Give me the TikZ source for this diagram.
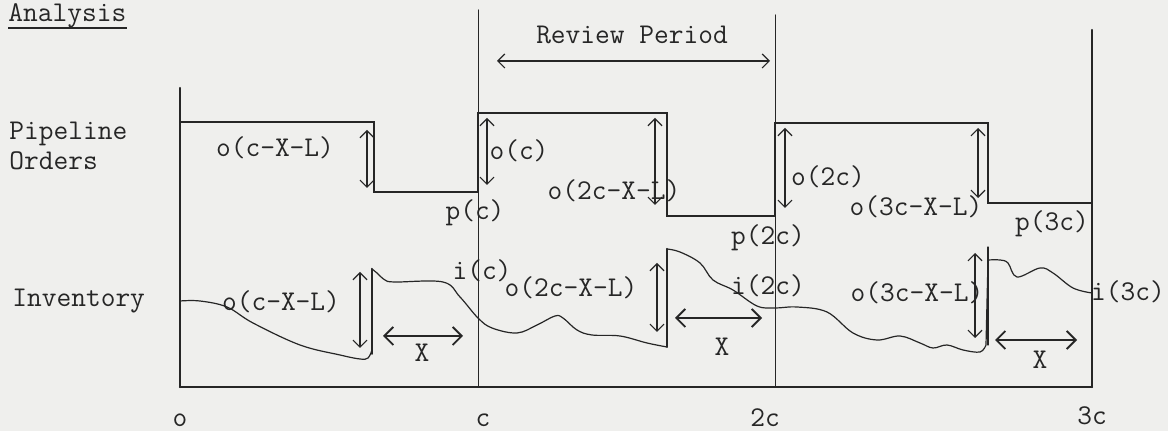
\documentclass[tikz,border=0pt]{standalone}
\usepackage{pgfplots}
\pgfplotsset{compat=1.15}
\usetikzlibrary{arrows,arrows.meta,calc}
\usepackage{tkz-euclide}
\definecolor{PaperClr}{RGB}{239,239,237}
\definecolor{InkClr}{RGB}{38,38,38}

\begin{document}
\begin{tikzpicture}[x=0.5pt,y=-0.5pt,font=\ttfamily\fontsize{14.3}{16}\selectfont,
  tip/.style={{Straight Barb[length=3.5pt,width=7pt]}-{Straight Barb[length=3.5pt,width=7pt]},line width=0.6pt,color=InkClr},
  wtip/.style={{Straight Barb[length=4.5pt,width=9pt]}-{Straight Barb[length=4.5pt,width=9pt]},line width=0.9pt,color=InkClr},
  lbl/.style={inner sep=0pt,text=InkClr}]
\tkzSetUpLine[line width=1pt,color=InkClr]

\useasboundingbox (0,0) rectangle (1168,431);
\fill[PaperClr] (0,0) rectangle (1168,431);

\tkzDefPoints{180/387/O,180/88/Y,1092/30/T3,1092/387/B3,478/10/Tc,478/387/Bc,775/15/T2,775/387/B2}
\tkzDefPoints{180/122/P1,374/122/P2,374/192/P3,478/192/P4,478/113/P5,667/113/P6,667/216/P7,775/216/P8,775/123/P9,988/123/P10,988/203/P11,1092/203/P12}
% order arrows
\tkzDefPoints{367/130/Oa,367/188/Ob,487/118/Oc,487/185/Od,655/118/Oe,655/205/Of,785/128/Og,785/208/Oh,978/128/Oi,978/198/Oj}
% inventory arrows and jumps
\tkzDefPoints{360/272/Ia,360/348/Ib,657/263/Ic,657/332/Id,975/253/Ie,975/338/If}
\tkzDefPoints{372/354/Ja,372/269/Jb,667/347/Jc,667/249/Jd,988/345/Je,988/247/Jf}
% X arrows
\tkzDefPoints{383/336/Xa,463/336/Xb,675/318/Xc,762/318/Xd,995/340/Xe,1077/340/Xf,497/61/Ra,770/61/Rb}

\tkzDrawSegments[line width=0.5pt](Tc,Bc T2,B2)
\tkzDrawSegments[line width=1.1pt](Y,O O,B3 T3,B3)

\draw[line width=1.1pt,color=InkClr] (P1)--(P2)--(P3)--(P4)--(P5)--(P6)--(P7)--(P8)--(P9)--(P10)--(P11)--(P12);

\draw[line width=0.6pt,color=InkClr] plot[smooth,tension=0.6] coordinates {(180,301) (200,301) (227,307) (253,323) (300,345) (340,355) (360,359) (368,358) (372,350)}
  -- plot[smooth,tension=0.6] coordinates {(372,269) (377,273) (385,280) (395,282) (443,282) (460,297) (478,318) (492,328) (517,333) (537,325) (555,316) (563,318) (577,330) (592,335) (620,336) (647,343) (667,347)}
  -- plot[smooth,tension=0.6] coordinates {(667,249) (680,252) (700,263) (713,280) (733,290) (757,306) (775,308) (797,307) (827,312) (853,333) (877,340) (900,336) (920,343) (933,348) (947,345) (963,350) (980,352) (986,345)}
  -- plot[smooth,tension=0.6] coordinates {(988,260) (1000,260) (1008,263) (1017,277) (1040,268) (1053,273) (1073,288) (1092,293)};
\tkzDrawSegments[line width=1pt](Ja,Jb Jc,Jd)
\tkzDrawSegments[line width=0.6pt](Je,Jf)

\tkzDrawSegments[tip](Oa,Ob Oc,Od Oe,Of Og,Oh Oi,Oj Ia,Ib Ic,Id Ie,If Ra,Rb)
\tkzDrawSegments[wtip](Xa,Xb Xc,Xd Xe,Xf)

% side texts
\node[lbl,anchor=base west] (ttl) at (8,22) {Analysis};
\draw[line width=1pt,color=InkClr] ([yshift=-3pt]ttl.base west) -- ([yshift=-3pt]ttl.base east);
\node[lbl,anchor=base west] (pip) at (9,140) {Pipeline};
\node[lbl,anchor=base west] (ord) at (9,170) {Orders};
\node[lbl,anchor=base west] (inv) at (12,307) {Inventory};
\node[lbl] (rev) at (632,35) {Review Period};

% pipeline labels
\node[lbl] (lOa) at (275,148) {o(c-X-L)};
\node[lbl] (lOc) at (519,151) {o(c)};
\node[lbl] (lOe) at (614,191) {o(2c-X-L)};
\node[lbl] (lOg) at (828,177) {o(2c)};
\node[lbl] (lOi) at (916,207) {o(3c-X-L)};
\node[lbl] (lPc) at (475,213) {p(c)};
\node[lbl] (lP2) at (768,238) {p(2c)};
\node[lbl] (lP3) at (1052,224) {p(3c)};

% inventory labels
\node[lbl] (lIc) at (482,271) {i(c)};
\node[lbl] (lI2) at (768,286) {i(2c)};
\node[lbl] (lI3) at (1128,292) {i(3c)};
\node[lbl] (lIa) at (281,302) {o(c-X-L)};
\node[lbl] (lIb) at (571,288) {o(2c-X-L)};
\node[lbl] (lId) at (917,293) {o(3c-X-L)};
\node[lbl] (lXa) at (422,353) {X};
\node[lbl] (lXb) at (722,347) {X};
\node[lbl] (lXc) at (1040,360) {X};

% axis labels
\node[lbl] (t0) at (180,420) {o};
\node[lbl] (t1) at (483,420) {c};
\node[lbl] (t2) at (765,418) {2c};
\node[lbl] (t3) at (1092,416) {3c};

\end{tikzpicture}
\end{document}
